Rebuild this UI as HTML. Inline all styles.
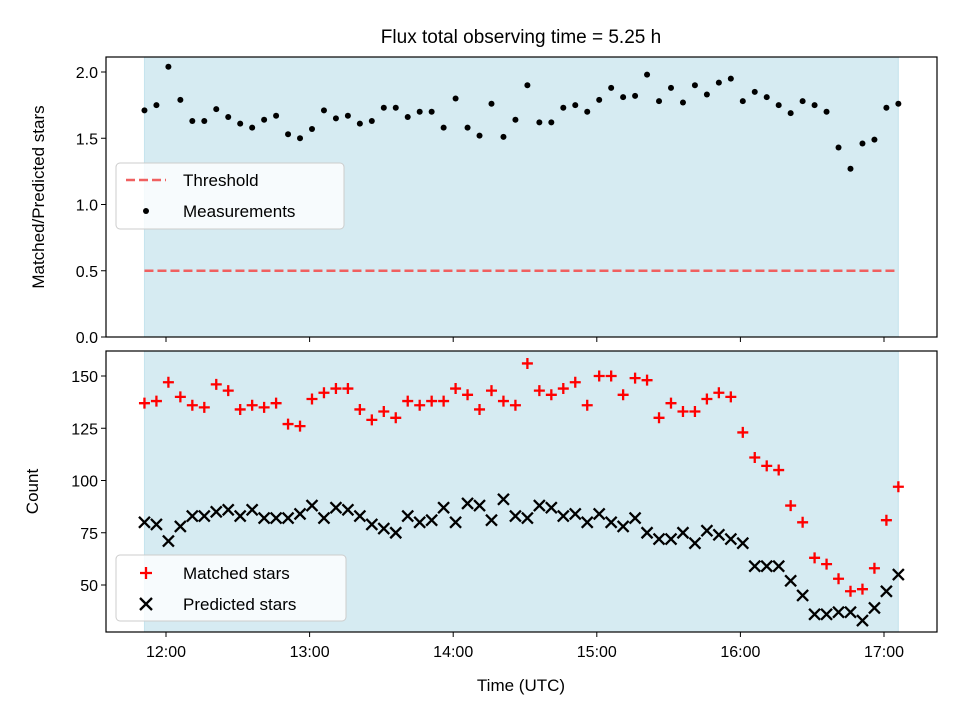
<!DOCTYPE html>
<html><head><meta charset="utf-8"><style>
body{margin:0;background:#fff;}
svg{display:block;font-family:"Liberation Sans","DejaVu Sans",sans-serif;}
</style></head><body>
<svg id="chart" width="960" height="720"></svg>
<script>
const startHour = 11.85;
const stepHour = 5/60;
const ratioValues = [1.71,1.75,2.04,1.79,1.63,1.63,1.72,1.66,1.61,1.58,1.64,1.67,1.53,1.50,1.57,1.71,1.65,1.67,1.61,1.63,1.73,1.73,1.66,1.70,1.70,1.58,1.80,1.58,1.52,1.76,1.51,1.64,1.90,1.62,1.62,1.73,1.75,1.70,1.79,1.88,1.81,1.82,1.98,1.78,1.88,1.77,1.90,1.83,1.92,1.95,1.78,1.85,1.81,1.75,1.69,1.78,1.75,1.70,1.43,1.27,1.46,1.49,1.73,1.76];
const matchedValues = [137,138,147,140,136,135,146,143,134,136,135,137,127,126,139,142,144,144,134,129,133,130,138,136,138,138,144,141,134,143,138,136,156,143,141,144,147,136,150,150,141,149,148,130,137,133,133,139,142,140,123,111,107,105,88,80,63,60,53,47,48,58,81,97];
const predictedValues = [80,79,71,78,83,83,85,86,83,86,82,82,82,84,88,82,87,86,83,79,77,75,83,80,81,87,80,89,88,81,91,83,82,88,87,83,84,80,84,80,78,82,75,72,72,75,70,76,74,72,70,59,59,59,52,45,36,36,37,37,33,39,47,55];
const threshold = 0.5;
const xTickHours = [12,13,14,15,16,17];
const xTickLabels = ["12:00","13:00","14:00","15:00","16:00","17:00"];
const topTicks = [0,0.5,1.0,1.5,2.0];
const bottomTicks = [50,75,100,125,150];

const NS="http://www.w3.org/2000/svg";
const svg=document.getElementById('chart');
function mk(tag,attrs,parent){const e=document.createElementNS(NS,tag);for(const k in attrs)e.setAttribute(k,attrs[k]);(parent||svg).appendChild(e);return e;}
const L=106,R=937;
const xs=h=>166+(h-12)*143.6;
const yTop=v=>337-v*132.5;
const yBot=v=>376+(150-v)*2.09;
const tx=i=>xs(startHour+i*stepHour);
const endHour=startHour+(ratioValues.length-1)*stepHour;

let t=mk('text',{x:521,y:43,'text-anchor':'middle','font-size':19});t.textContent='Flux total observing time = 5.25 h';


function panel(y0,y1,name,ticks,yf,fmt,ylabel,lx){
  const g=mk('g',{});
  
  const sh=mk('rect',{x:xs(startHour),y:y0,width:xs(endHour)-xs(startHour),height:y1-y0,fill:'#add8e6','fill-opacity':0.5,stroke:'#add8e6','stroke-opacity':0.6},g);
  
  ticks.forEach(v=>{const y=yf(v);mk('line',{x1:L-5,x2:L,y1:y,y2:y,stroke:'#000'},g);
    const tt=mk('text',{x:L-8,y:y+6,'text-anchor':'end','font-size':16},g);tt.textContent=fmt(v);
    });
  xTickHours.forEach(h=>{mk('line',{x1:xs(h),x2:xs(h),y1:y1,y2:y1+5,stroke:'#000'},g);});
  const yl=mk('text',{transform:`translate(${lx},${(y0+y1)/2}) rotate(-90)`,'text-anchor':'middle','font-size':17},g);yl.textContent=ylabel;
  
  return g;
}
const g1=panel(57,337,'top-panel',topTicks,yTop,v=>v.toFixed(1),'Matched/Predicted stars',44);
const g2=panel(351,632,'bottom-panel',bottomTicks,yBot,v=>String(v),'Count',38);

const th=mk('line',{x1:xs(startHour),x2:xs(endHour),y1:yTop(threshold),y2:yTop(threshold),stroke:'#f06060','stroke-width':2.5,'stroke-dasharray':'9,4'},g1);

ratioValues.forEach((v,i)=>{const c=mk('circle',{cx:tx(i),cy:yTop(v),r:3,fill:'#000'},g1);
  });
matchedValues.forEach((v,i)=>{const x=tx(i),y=yBot(v);
  const p=mk('path',{d:`M${x-5.5},${y}H${x+5.5}M${x},${y-5.5}V${y+5.5}`,stroke:'#f00','stroke-width':2.3},g2);
  });
predictedValues.forEach((v,i)=>{const x=tx(i),y=yBot(v);
  const p=mk('path',{d:`M${x-5.5},${y-5.5}L${x+5.5},${y+5.5}M${x-5.5},${y+5.5}L${x+5.5},${y-5.5}`,stroke:'#000','stroke-width':2.3},g2);
  });

[[57,337],[351,632]].forEach(([a,b])=>{const f=mk('rect',{x:L,y:a,width:R-L,height:b-a,fill:'none',stroke:'#000','stroke-width':1.2});
  });
xTickHours.forEach((h,i)=>{const tt=mk('text',{x:xs(h),y:657,'text-anchor':'middle','font-size':16});tt.textContent=xTickLabels[i];
  });
const xl=mk('text',{x:521,y:691,'text-anchor':'middle','font-size':17});xl.textContent='Time (UTC)';


function legend(y,name,w){const g=mk('g',{});
  mk('rect',{x:116,y:y,width:w,height:66,rx:4,fill:'#fff','fill-opacity':0.8,stroke:'#ccc'},g);return g;}
const lg1=legend(163,'top-legend',228);
mk('line',{x1:126,x2:166,y1:180,y2:180,stroke:'#f06060','stroke-width':2.5,'stroke-dasharray':'9,4'},lg1);
let e=mk('text',{x:183,y:186,'font-size':17},lg1);e.textContent='Threshold';

mk('circle',{cx:146,cy:211,r:3,fill:'#000'},lg1);
e=mk('text',{x:183,y:217,'font-size':17},lg1);e.textContent='Measurements';

const lg2=legend(555,'bottom-legend',230);
mk('path',{d:'M140,573H152M146,567V579',stroke:'#f00','stroke-width':2.3},lg2);
e=mk('text',{x:183,y:579,'font-size':17},lg2);e.textContent='Matched stars';

mk('path',{d:'M140,598L152,610M140,610L152,598',stroke:'#000','stroke-width':2.3},lg2);
e=mk('text',{x:183,y:610,'font-size':17},lg2);e.textContent='Predicted stars';

</script>
</body></html>
